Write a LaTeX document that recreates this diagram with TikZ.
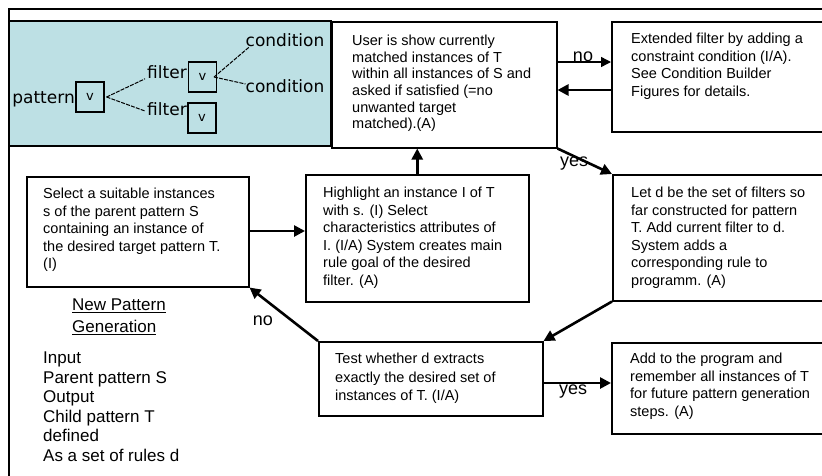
\documentclass[tikz,border=0pt]{standalone}
\usepackage{fontspec}
\setmainfont{Liberation Sans}
\newfontfamily\treefont{DejaVu Sans}
\usetikzlibrary{arrows.meta}
\definecolor{panelblue}{RGB}{189,224,228}
\tikzset{
  stepbox/.style={draw, line width=1.5pt, rectangle, inner sep=0pt, anchor=north west},
  boxtext/.style={anchor=north west, inner sep=0pt, align=left,
    font=\fontsize{14.5}{17.5}\selectfont},
  flow/.style={line width=2.6pt, -{Triangle[length=11pt,width=11pt]}},
  thinflow/.style={line width=1.4pt, -{Triangle[length=10pt,width=10pt]}},
  lbl/.style={font=\fontsize{18}{20}\selectfont, inner sep=0pt},
  treetext/.style={font=\treefont\fontsize{17}{19}\selectfont, inner sep=0pt},
  vbox/.style={draw, line width=1.1pt, inner sep=0pt, minimum width=28pt,
    minimum height=30pt, font=\treefont\fontsize{13}{15}\selectfont},
  treeline/.style={line width=1pt, dash pattern=on 4pt off 1.2pt},
  sidetext/.style={anchor=north west, inner sep=0pt, align=left,
    font=\fontsize{17}{19.5}\selectfont}
}
\begin{document}
\begin{tikzpicture}[x=1pt,y=-1pt]
\useasboundingbox (0,0) rectangle (822,475);
\clip (0,0) rectangle (822,475);

% outer frame and the shaded pattern-tree panel
\draw[line width=1.2pt] (830,9) -- (9,9) -- (9,480);
\draw[line width=1.2pt, fill=panelblue] (9,21) rectangle (331,146);

% pattern / filter / condition tree
\node[treetext, anchor=east] (pat) at (75,99) {pattern};
\node[vbox] (va) at (90,97) {v};
\node[treetext] (f1) at (167,72) {filter};
\node[vbox] (vb) at (202.5,77) {v};
\node[treetext] (f2) at (167,109) {filter};
\node[vbox] (vc) at (202,118) {v};
\node[treetext] (c1) at (285,40) {condition};
\node[treetext] (c2) at (285,86) {condition};
\draw[treeline] ([xshift=2pt]va.east) -- ([xshift=-2pt]f1.south west);
\draw[treeline] ([xshift=2pt]va.east) -- ([xshift=-2pt,yshift=-2pt]f2.west);
\draw[treeline] ([xshift=-3pt]vb.east) -- ([xshift=4pt]c1.south west);
\draw[treeline] ([xshift=-3pt]vb.east) -- ([yshift=2pt]c2.west);

% process boxes
\node[stepbox, minimum width=225pt, minimum height=126pt] (user) at (331,21) {};
\node[stepbox, minimum width=229pt, minimum height=110pt] (ext) at (611,21) {};
\node[stepbox, minimum width=222pt, minimum height=110pt] (sel) at (26,176) {};
\node[stepbox, minimum width=223pt, minimum height=127pt] (high) at (305,174) {};
\node[stepbox, minimum width=228pt, minimum height=126pt] (letd) at (612,174) {};
\node[stepbox, minimum width=224pt, minimum height=74pt] (test) at (318,341) {};
\node[stepbox, minimum width=229pt, minimum height=91pt] (add) at (611,342) {};

% box texts
\node[boxtext, font=\fontsize{14.5}{16.6}\selectfont] (usertxt) at (352,35)
  {User is show currently\\matched instances of T\\within all instances of S and\\asked if satisfied (=no\\unwanted target\\matched).(A)};
\node[boxtext] (exttxt) at (631,33)
  {Extended filter by adding a\\constraint condition (I/A).\\See Condition Builder\\Figures for details.};
\node[boxtext] (seltxt) at (43,188)
  {Select a suitable instances\\s of the parent pattern S\\containing an instance of\\the desired target pattern T.\\(I)};
\node[boxtext] (hightxt) at (323,187)
  {Highlight an instance I of T\\with s. (I) Select\\characteristics attributes of\\I. (I/A) System creates main\\rule goal of the desired\\filter. (A)};
\node[boxtext] (letdtxt) at (631,187)
  {Let d be the set of filters so\\far constructed for pattern\\T. Add current filter to d.\\System adds a\\corresponding rule to\\programm. (A)};
\node[boxtext, font=\fontsize{14.5}{18.3}\selectfont] (testtxt) at (335,353)
  {Test whether d extracts\\exactly the desired set of\\instances of T. (I/A)};
\node[boxtext] (addtxt) at (630,353)
  {Add to the program and\\remember all instances of T\\for future pattern generation\\steps. (A)};

% side description
\node[sidetext, font=\fontsize{17}{21.5}\selectfont] (title) at (72,299)
  {\underline{New Pattern}\\\underline{Generation}};
\node[sidetext] (io) at (43,352)
  {Input\\Parent pattern S\\Output\\Child pattern T\\defined\\As a set of rules d};

% connectors
\draw[thinflow] (user.east |- 0,62) -- (ext.west |- 0,62);
\draw[flow] (ext.west |- 0,90) -- (user.east |- 0,90);
\draw[flow] (sel.east |- 0,231) -- (high.west |- 0,231);
\draw[flow] (high.north) -- (high.north |- user.south);
\draw[flow] (user.south east) -- (letd.north west);
\draw[flow] (letd.south west) -- (test.north east);
\draw[flow] (test.north west) -- (sel.south east);
\draw[flow] (test.east |- 0,383) -- (add.west |- 0,383);

% connector labels
\node[lbl] (lno1) at (583,57) {no};
\node[lbl] (lyes1) at (574,164) {yes};
\node[lbl] (lno2) at (263,321) {no};
\node[lbl] (lyes2) at (573,392) {yes};
\end{tikzpicture}
\end{document}
